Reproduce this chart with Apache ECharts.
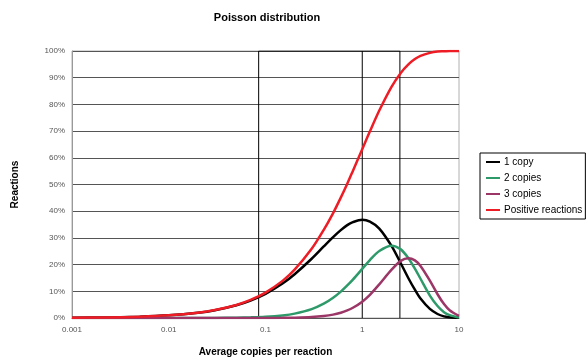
<!DOCTYPE html>
<html><head><meta charset="utf-8">
<script src="https://cdn.jsdelivr.net/npm/echarts@6/dist/echarts.min.js"></script>
<style>html,body{margin:0;padding:0;background:#fff}#c{width:588px;height:358px}</style>
</head><body><div id="c"></div>
<script>
// x positions (average copies per reaction)
const xs = [0.001,0.002,0.005,0.01,0.02,0.03,0.05,0.07,0.1,0.15,0.2,0.3,0.4,0.5,0.6,0.7,0.8,1,1.2,1.5,2,2.5,3,3.5,4,5,6,7,8,10];
const oneCopy = [0.001,0.002,0.005,0.0099,0.0196,0.0291,0.0476,0.0653,0.0905,0.129,0.164,0.222,0.268,0.303,0.329,0.348,0.359,0.368,0.361,0.335,0.271,0.205,0.149,0.106,0.073,0.034,0.015,0.006,0.003,0.0005];
const twoCopies = [0,0,0,0.00005,0.0002,0.0004,0.0012,0.0023,0.0045,0.0097,0.0164,0.0333,0.0536,0.0758,0.0988,0.122,0.144,0.184,0.217,0.251,0.271,0.257,0.224,0.185,0.147,0.084,0.045,0.022,0.011,0.002];
const threeCopies = [0,0,0,0,0,0,0.00002,0.00005,0.00015,0.0005,0.0011,0.0033,0.0072,0.0126,0.0198,0.0284,0.0383,0.0613,0.0867,0.126,0.180,0.214,0.224,0.216,0.195,0.140,0.089,0.052,0.029,0.0076];
const positive = [0.001,0.002,0.005,0.00995,0.0198,0.0296,0.0488,0.0676,0.0952,0.139,0.181,0.259,0.330,0.393,0.451,0.503,0.551,0.632,0.699,0.777,0.865,0.918,0.950,0.970,0.982,0.993,0.998,0.999,1.0,1.0];
const xTicks = ['0.001','0.01','0.1','1','10'];
const yTicks = ['0%','10%','20%','30%','40%','50%','60%','70%','80%','90%','100%'];
const boxLeft = 0.085, boxMid = 1, boxRight = 2.45;
const names = ['1 copy','2 copies','3 copies','Positive reactions'];
const colors = ['#000000','#2e9a6a','#9b3667','#ee1c25'];

const pairs = arr => xs.map((x,i)=>[x,arr[i]]);
const font = 'Liberation Sans, Arial, sans-serif';
const chart = echarts.init(document.getElementById('c'), null, {renderer:'canvas'});
const lineSeries = [oneCopy,twoCopies,threeCopies,positive].map((arr,i)=>({
  name: names[i], type:'line', data: pairs(arr), smooth: 0.3, symbol:'none',
  lineStyle:{color:colors[i], width:2.5}, itemStyle:{color:colors[i]}, z: 3 + (i===3?1:0)
}));
chart.setOption({
  animation:false,
  title:{text:'Poisson distribution', left:262, top:7, textAlign:'center',
    textStyle:{fontFamily:font, fontSize:11, fontWeight:'bold', color:'#000'}},
  grid:{left:72, right:129, top:51, bottom:40, show:true, borderColor:'#b0b0b0', borderWidth:1,
    outerBoundsMode:'none', containLabel:false},
  legend:{orient:'vertical', left:480, top:153, width:104, data:names,
    icon:'rect', itemWidth:14, itemHeight:2, itemGap:6,
    borderColor:'#000', borderWidth:1, padding:[4,3,4,6],
    textStyle:{fontFamily:font, fontSize:10, color:'#000', padding:[0,0,0,-1]}},
  xAxis:{type:'log', logBase:10, min:0.001, max:10,
    name:'Average copies per reaction', nameLocation:'middle', nameGap:29,
    nameTextStyle:{fontFamily:font, fontSize:10, fontWeight:'bold', color:'#000'},
    axisLine:{show:true, lineStyle:{color:'#555'}}, axisTick:{show:false},
    splitLine:{show:false}, minorTick:{show:false},
    axisLabel:{fontFamily:font, fontSize:8, color:'#555', margin:8,
      formatter:v=>{const s=xTicks.find(t=>Math.abs(parseFloat(t)-v)/v<1e-6);return s||'';}}},
  yAxis:{type:'value', min:0, max:1, interval:0.1,
    name:'Reactions', nameLocation:'middle', nameGap:52, nameRotate:90,
    nameTextStyle:{fontFamily:font, fontSize:10, fontWeight:'bold', color:'#000'},
    axisLine:{show:true, lineStyle:{color:'#999'}}, axisTick:{show:false},
    splitLine:{show:true, lineStyle:{color:'#555', width:1}},
    axisLabel:{fontFamily:font, fontSize:8, color:'#555', margin:7,
      formatter:v=>yTicks[Math.round(v*10)]}},
  series:[
    {type:'line', name:'box', data:[[boxLeft,0],[boxLeft,1],[boxRight,1],[boxRight,0]],
      symbol:'none', lineStyle:{color:'#000', width:1}, silent:true, z:2},
    {type:'line', name:'mid', data:[[boxMid,0],[boxMid,1]],
      symbol:'none', lineStyle:{color:'#000', width:1}, silent:true, z:2},
    ...lineSeries
  ]
});
</script></body></html>
